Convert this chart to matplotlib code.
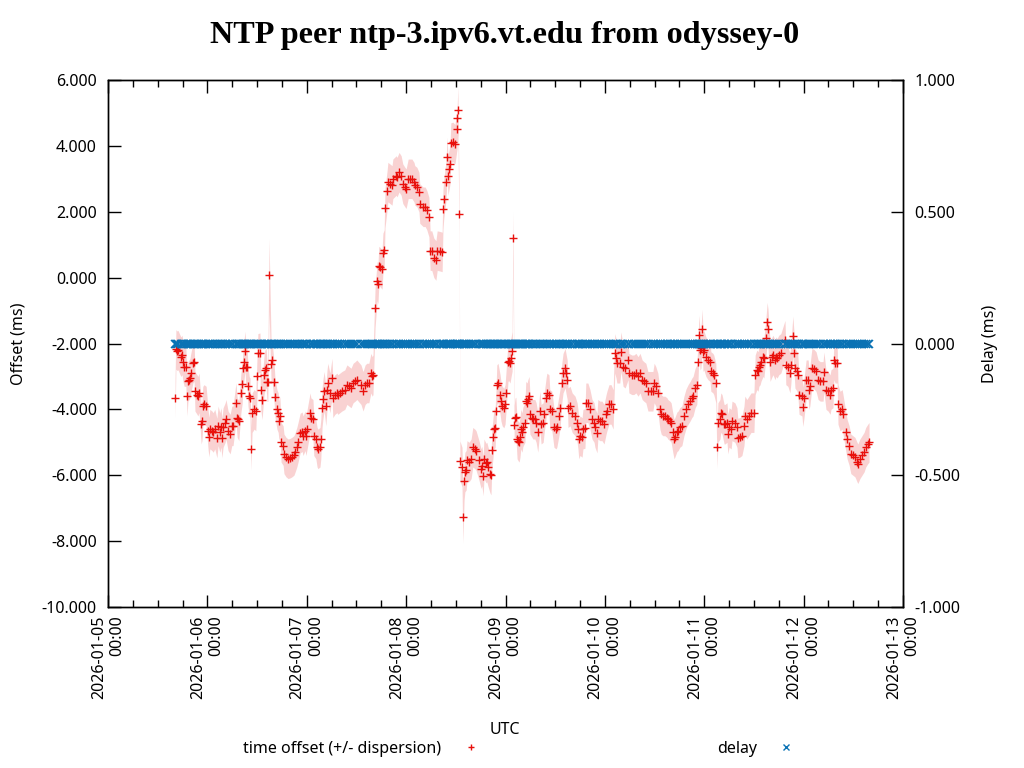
import matplotlib
matplotlib.use('Agg')
import matplotlib.pyplot as plt
import matplotlib.dates as mdates
from matplotlib.lines import Line2D
import numpy as np
import pandas as pd

# sample times, hours after 2026-01-05 00:00 UTC
hours = [
    16.2, 16.4, 16.7, 16.9, 17.6, 17.9, 18.1, 18.4, 18.8, 19.1, 19.3, 19.6, 19.8, 20.0,
    20.5, 20.8, 21.0, 21.5, 21.7, 22.0, 22.5, 22.7, 22.9, 23.2, 23.7, 24.2, 24.4, 24.6,
    25.1, 25.4, 25.8, 26.3, 26.6, 27.0, 27.3, 27.5, 27.8, 28.3, 28.5, 29.0, 29.5, 29.9,
    30.2, 30.9, 31.2, 31.4, 31.6, 32.1, 32.4, 32.6, 32.8, 33.1, 33.3, 33.6, 33.8, 34.1,
    34.3, 34.5, 34.8, 35.3, 35.7, 36.0, 36.2, 36.7, 36.9, 37.2, 37.7, 37.9, 38.2, 38.4,
    38.6, 38.9, 39.4, 39.6, 40.1, 40.3, 40.8, 41.1, 41.3, 41.5, 41.8, 42.3, 42.5, 43.0,
    43.5, 44.0, 44.4, 44.9, 45.2, 45.6, 45.9, 46.4, 46.9, 47.1, 47.6, 47.8, 48.1, 48.8,
    49.0, 49.5, 49.7, 50.2, 50.5, 50.7, 51.2, 51.4, 51.7, 51.9, 52.2, 52.6, 52.9, 53.1,
    53.6, 54.1, 54.3, 54.8, 55.3, 55.5, 56.0, 56.5, 57.2, 57.7, 58.2, 58.7, 59.2, 59.7,
    60.1, 61.1, 61.6, 62.1, 62.5, 63.0, 63.5, 63.8, 64.0, 64.5, 65.0, 65.2, 65.4, 65.7,
    66.2, 66.4, 66.7, 66.9, 67.4, 67.6, 68.1, 68.6, 68.8, 69.6, 69.8, 70.3, 70.8, 71.2,
    71.7, 72.0, 72.5, 72.9, 73.4, 73.9, 74.1, 74.6, 75.1, 75.3, 76.1, 76.6, 77.0, 77.5,
    77.8, 78.2, 78.7, 79.2, 79.5, 80.2, 80.7, 80.9, 81.1, 81.6, 81.9, 82.1, 82.4, 82.6,
    82.8, 83.3, 83.8, 84.3, 84.4, 84.5, 84.8, 85.0, 85.5, 85.7, 86.0, 86.2, 86.5, 86.7,
    87.2, 87.7, 88.1, 88.6, 88.9, 89.6, 90.1, 90.3, 90.6, 90.8, 91.3, 91.5, 91.8, 92.3,
    92.5, 92.7, 93.0, 93.2, 93.5, 93.7, 93.9, 94.2, 94.7, 94.9, 95.2, 95.6, 95.9, 96.1,
    96.6, 96.8, 97.1, 97.3, 97.6, 97.8, 98.1, 98.3, 98.5, 98.8, 99.0, 99.3, 99.5, 99.7,
    100.0, 100.2, 100.7, 100.9, 101.2, 101.4, 101.7, 101.9, 102.4, 102.6, 103.1, 103.4,
    103.8, 104.3, 104.6, 105.1, 105.3, 105.8, 106.0, 106.5, 106.7, 107.2, 107.7, 108.2,
    108.4, 108.9, 109.2, 109.6, 109.9, 110.4, 110.6, 110.9, 111.1, 111.6, 112.1, 112.8,
    113.3, 113.5, 113.7, 114.0, 114.5, 114.7, 115.2, 115.4, 115.9, 116.4, 116.9, 117.4,
    117.6, 118.1, 118.3, 118.8, 119.3, 119.8, 120.3, 120.5, 121.0, 121.5, 122.0, 122.4,
    122.7, 122.9, 123.6, 123.9, 124.4, 124.9, 125.6, 125.8, 126.5, 127.0, 127.5, 128.0,
    128.5, 129.0, 129.4, 129.9, 130.4, 131.1, 131.6, 131.9, 132.3, 132.8, 133.3, 133.6,
    134.0, 134.5, 135.0, 135.2, 135.7, 136.0, 136.4, 136.7, 136.9, 137.4, 137.7, 138.1,
    138.6, 139.1, 139.6, 140.1, 140.6, 141.0, 141.3, 141.8, 142.2, 142.5, 142.7, 143.0,
    143.2, 143.5, 143.7, 143.9, 144.4, 144.9, 145.4, 145.6, 146.1, 146.3, 146.8, 147.1,
    147.3, 147.8, 148.0, 148.3, 148.8, 149.0, 149.5, 149.7, 150.0, 150.5, 150.7, 151.4,
    151.9, 152.1, 152.6, 153.1, 153.6, 153.8, 154.3, 154.8, 155.3, 156.0, 156.3, 156.7,
    157.0, 157.2, 157.5, 157.7, 158.2, 158.4, 158.9, 159.2, 159.4, 159.9, 160.4, 160.6,
    161.1, 161.3, 161.6, 162.0, 162.5, 163.5, 163.7, 164.2, 164.7, 164.9, 165.4, 165.7,
    165.9, 166.4, 166.6, 166.9, 167.6, 167.8, 168.1, 168.6, 169.1, 169.3, 169.5, 170.0,
    170.5, 171.0, 171.5, 172.0, 172.7, 172.9, 173.4, 173.9, 174.4, 174.6, 175.1, 175.3,
    175.6, 176.1, 176.3, 176.8, 177.3, 177.5, 178.2, 178.5, 179.0, 179.4, 179.9, 180.4,
    180.9, 181.1, 181.6, 182.1, 182.6, 183.0, 183.5, 183.8,
]

# time offset in ms
offset_ms = [
    -3.66, -2.18, -2.22, -2.20, -2.40, -2.35, -2.55, -2.70, -2.70, -3.60, -3.15, -3.10, -3.05, -2.90,
    -2.60, -2.55, -3.45, -3.55, -3.60, -3.50, -4.45, -4.35, -3.90, -3.85, -3.90, -4.65, -4.84, -4.60,
    -4.65, -4.70, -4.60, -4.87, -4.50, -4.70, -4.55, -4.87, -4.55, -4.40, -4.30, -4.65, -4.75, -4.50,
    -4.50, -3.80, -4.25, -4.30, -4.35, -3.50, -3.23, -2.75, -2.55, -2.23, -2.72, -2.70, -3.29, -3.60,
    -3.65, -5.20, -4.10, -4.00, -4.05, -2.99, -2.30, -2.28, -3.41, -3.71, -2.95, -2.80, -2.75, -3.16,
    -3.16, 0.08, -2.62, -2.50, -3.16, -3.61, -4.00, -4.10, -4.35, -4.20, -5.00, -5.10, -5.35, -5.45,
    -5.50, -5.48, -5.45, -5.40, -5.30, -5.15, -5.00, -4.72, -4.68, -4.80, -4.65, -4.80, -4.60, -4.10,
    -4.25, -4.30, -4.80, -4.90, -5.15, -5.20, -5.15, -4.90, -3.95, -3.70, -3.45, -3.90, -3.40, -3.20,
    -3.50, -3.05, -3.65, -3.55, -3.50, -3.55, -3.50, -3.45, -3.40, -3.25, -3.30, -3.35, -3.20, -3.15,
    -3.10, -3.25, -3.45, -3.25, -3.20, -3.20, -2.90, -3.00, -2.95, -0.92, -0.10, -0.20, 0.35, 0.32,
    0.25, 0.75, 0.85, 2.12, 2.64, 2.90, 2.85, 2.80, 3.00, 3.10, 3.05, 3.20, 3.10, 2.85,
    2.75, 2.70, 3.00, 3.00, 3.00, 2.90, 2.80, 2.75, 2.60, 2.25, 2.15, 2.15, 2.05, 1.84,
    0.82, 0.82, 0.60, 0.52, 0.82, 0.80, 0.78, 2.08, 2.40, 2.90, 3.66, 3.10, 3.30, 3.45,
    4.10, 4.12, 4.05, 4.50, 4.85, 5.09, 1.93, -5.56, -5.75, -7.26, -6.16, -5.90, -5.85, -5.55,
    -5.60, -5.50, -5.15, -5.20, -5.25, -5.55, -5.80, -5.72, -6.02, -5.50, -5.63, -5.60, -5.75, -5.95,
    -5.99, -5.23, -4.84, -4.60, -4.56, -4.04, -3.25, -3.20, -3.55, -3.75, -3.90, -3.96, -3.85, -3.50,
    -2.55, -2.53, -2.60, -2.44, -2.24, 1.20, -4.47, -4.26, -4.23, -4.90, -4.95, -5.00, -4.85, -4.60,
    -4.70, -4.53, -4.40, -3.75, -3.80, -3.70, -3.60, -4.15, -4.25, -4.30, -4.30, -4.40,
    -4.70, -4.05, -4.45, -4.40, -4.15, -3.65, -3.50, -3.55, -4.00, -4.05, -4.55, -4.60,
    -4.55, -4.20, -3.95, -3.20, -2.90, -2.75, -2.90, -3.10, -3.95, -3.90, -4.10, -4.20,
    -4.40, -4.60, -4.90, -4.80, -4.85, -4.60, -4.58, -3.80, -3.80, -4.00, -4.30, -4.40,
    -4.55, -4.72, -4.30, -4.35, -4.35, -4.45, -4.15, -4.05, -3.85, -3.85, -4.00, -2.30,
    -2.45, -2.60, -2.60, -2.25, -2.70, -2.75, -2.50, -2.90, -2.95, -2.95, -2.90, -3.00,
    -2.90, -3.10, -3.15, -3.20, -3.45, -3.45, -3.45, -3.20, -3.30, -3.50, -4.00, -4.15,
    -4.20, -4.20, -4.25, -4.30, -4.35, -4.40, -4.70, -4.90, -4.85, -4.68, -4.65, -4.55,
    -4.50, -4.20, -3.98, -3.85, -3.75, -3.65, -3.60, -3.35, -3.25, -2.55, -1.74, -2.20,
    -2.15, -1.56, -2.25, -2.20, -2.40, -2.50, -2.55, -2.85, -2.90, -2.95, -3.20, -5.13,
    -4.40, -4.30, -4.10, -4.15, -4.45, -4.45, -4.40, -4.75, -4.55, -4.60, -4.35, -4.40,
    -4.55, -4.87, -4.85, -4.80, -4.50, -4.20, -4.30, -4.20, -4.10, -4.10, -2.95, -2.80,
    -2.85, -2.70, -2.65, -2.55, -2.40, -2.45, -1.83, -1.35, -1.56, -2.55, -2.40, -2.35,
    -2.50, -2.40, -2.45, -2.35, -2.30, -1.90, -2.65, -2.70, -2.90, -2.65, -1.77, -2.30,
    -2.75, -2.85, -2.95, -3.55, -3.60, -3.92, -3.65, -3.10, -3.10, -3.40, -3.30, -2.75,
    -2.78, -2.85, -3.10, -3.15, -3.15, -2.86, -3.40, -3.45, -3.55, -3.40, -3.35, -2.50,
    -2.60, -2.60, -3.85, -4.05, -4.00, -4.14, -4.68, -4.90, -5.10, -5.35, -5.40, -5.45,
    -5.60, -5.65, -5.50, -5.40, -5.30, -5.15, -5.05, -5.00,
]

# dispersion in ms: typical value, wider around the outliers
dispersion_typical = 0.6
dispersion_wide = {38.9: 1.1, 84.5: 0.7, 85.7: 0.8, 97.8: 0.8, 34.5: 0.65, 147.1: 0.65}

# round-trip delay in ms (flat at zero)
delay_ms = [0.0] * len(hours)

start = pd.Timestamp('2026-01-05 00:00')
times = start + pd.to_timedelta(hours, unit='h')
offset = np.array(offset_ms)
disp = np.array([dispersion_wide.get(h, dispersion_typical) for h in hours])

plt.rcParams['font.family'] = ['Noto Sans', 'DejaVu Sans']
fs = 11.5

fig = plt.figure(figsize=(10.24, 7.68), dpi=100)
ax = fig.add_axes([108 / 1024, 1 - 607 / 768, 795 / 1024, 527 / 768])
ax2 = ax.twinx()

red = '#e8100c'
blue = '#0a72b4'

ax.fill_between(times, offset - disp, offset + disp, color='#f7c4c4', alpha=0.75,
                linewidth=0, zorder=1)
ax.plot(times, offset, linestyle='none', marker='+', markersize=5.5,
        markeredgewidth=1.0, color=red, zorder=2)
ax2.plot(times, delay_ms, linestyle='none', marker='x', markersize=5.5,
         markeredgewidth=1.1, color=blue, zorder=3)

ax.set_xlim(pd.Timestamp('2026-01-05'), pd.Timestamp('2026-01-13'))
ax.set_ylim(-10, 6)
ax2.set_ylim(-1, 1)

ax.xaxis.set_major_locator(mdates.DayLocator())
ax.xaxis.set_minor_locator(mdates.HourLocator(byhour=[6, 12, 18]))
ax.xaxis.set_major_formatter(mdates.DateFormatter('%Y-%m-%d\n%H:%M'))
ax.set_yticks(np.arange(-10, 6.1, 2))
ax.yaxis.set_major_formatter(matplotlib.ticker.FormatStrFormatter('%.3f'))
ax2.set_yticks(np.arange(-1, 1.01, 0.5))
ax2.yaxis.set_major_formatter(matplotlib.ticker.FormatStrFormatter('%.3f'))

ax.tick_params(axis='x', which='major', direction='in', length=9, width=1,
               top=True, labelsize=fs, pad=6)
ax.tick_params(axis='x', which='minor', direction='in', length=5, width=1, top=True)
ax.tick_params(axis='y', direction='in', length=9, width=1, labelsize=fs, pad=8)
ax2.tick_params(axis='y', direction='in', length=9, width=1, labelsize=fs, pad=8)
for lab in ax.get_xticklabels():
    lab.set_rotation(90)
    lab.set_horizontalalignment('center')
    lab.set_verticalalignment('top')
    lab.set_multialignment('right')

for a in (ax, ax2):
    for sp in a.spines.values():
        sp.set_linewidth(1)
        sp.set_color('black')

ax.set_ylabel('Offset (ms)', fontsize=fs, labelpad=11)
ax2.set_ylabel('Delay (ms)', fontsize=fs, labelpad=16, rotation=90)
fig.text(505 / 1024, 1 - 730 / 768, 'UTC', ha='center', va='center', fontsize=fs)
fig.text(505 / 1024, 1 - 35 / 768, 'NTP peer ntp-3.ipv6.vt.edu from odyssey-0',
         ha='center', va='center', fontsize=23.2, fontweight='bold',
         family='Liberation Serif')

handles = [
    Line2D([], [], linestyle='none', marker='+', markersize=5, color=red,
           label='time offset (+/- dispersion)'),
    Line2D([], [], linestyle='none', marker='x', markersize=4, color=blue, label='delay'),
]
fig.legend(handles=handles, loc='center left', ncol=2, frameon=False,
           markerfirst=False, fontsize=fs, handlelength=2, handletextpad=0.85,
           columnspacing=14.4, borderpad=0, borderaxespad=0,
           bbox_to_anchor=(243 / 1024, 1 - 749 / 768))

fig.savefig('out.png', dpi=100)
